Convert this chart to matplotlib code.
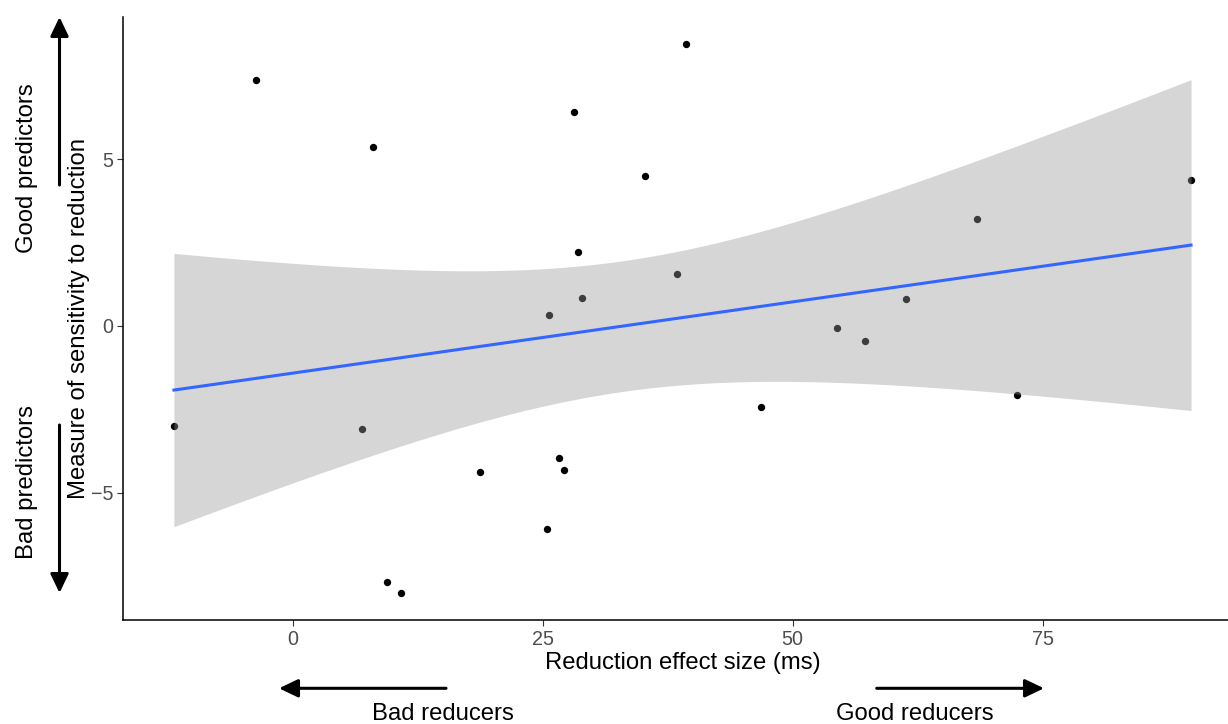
import numpy as np
import matplotlib.pyplot as plt

plt.rcParams['font.family'] = ['Liberation Sans', 'DejaVu Sans']

# data
effect_ms = [-11.87, -3.70, 8.06, 6.90, 9.46, 10.80, 18.76, 25.40, 25.66, 26.60,
             27.16, 28.13, 28.56, 28.93, 35.23, 38.40, 39.36, 46.80, 54.43, 57.26,
             61.33, 68.40, 72.40, 89.83]
sensitivity = [-3.01, 7.39, 5.38, -3.10, -7.69, -8.01, -4.38, -6.08, 0.32, -3.96,
               -4.32, 6.43, 2.23, 0.83, 4.51, 1.55, 8.46, -2.44, -0.06, -0.44,
               0.81, 3.21, -2.08, 4.39]
x_ticks = [0, 25, 50, 75]
y_ticks = [-5, 0, 5]

x = np.array(effect_ms)
y = np.array(sensitivity)

# linear fit with 95% confidence band (like geom_smooth(method="lm"))
n = len(x)
slope, intercept = np.polyfit(x, y, 1)
resid = y - (intercept + slope * x)
s = np.sqrt(np.sum(resid ** 2) / (n - 2))
t_crit = 2.0739  # t(0.975, df=22)
xs = np.linspace(x.min(), x.max(), 200)
fit = intercept + slope * xs
se = s * np.sqrt(1 / n + (xs - x.mean()) ** 2 / np.sum((x - x.mean()) ** 2))
lo, hi = fit - t_crit * se, fit + t_crit * se

W, H = 1228, 724
fig = plt.figure(figsize=(W / 100, H / 100), dpi=100)

# axes box in pixels (the right edge runs a little past the picture, as in the original)
left, right, top, bottom = 123.1, 1241.9, 16.7, 620.3
ax = fig.add_axes([left / W, 1 - bottom / H, (right - left) / W, (bottom - top) / H])

ax.scatter(x, y, s=28, color='black', zorder=1, linewidths=0)
ax.fill_between(xs, lo, hi, color='#999999', alpha=0.4, lw=0, zorder=2)
ax.plot(xs, fit, color='#3366FF', lw=2.2, zorder=3)

xr = x.max() - x.min()
yr = y.max() - y.min()
ax.set_xlim(x.min() - 0.05 * xr, x.max() + 0.05 * xr)
ax.set_ylim(y.min() - 0.05 * yr, y.max() + 0.05 * yr)
ax.set_xticks(x_ticks)
ax.set_yticks(y_ticks)
ax.set_yticklabels(['\u22125', '0', '5'])
ax.tick_params(colors='#333333', labelcolor='#4d4d4d', labelsize=14.2,
               length=4, width=0.8, pad=3)
for side in ['top', 'right']:
    ax.spines[side].set_visible(False)
for side in ['left', 'bottom']:
    ax.spines[side].set_linewidth(1.1)


def fx(px):
    return px / W


def fy(py):
    return 1 - py / H


fs = 17.2
fig.text(fx(682.5), fy(669.3), 'Reduction effect size (ms)', ha='center', va='baseline', fontsize=fs)
fig.text(fx(85), fy(318.5), 'Measure of sensitivity to reduction', rotation=90,
         rotation_mode='anchor', ha='center', va='baseline', fontsize=fs)
fig.text(fx(33), fy(168), 'Good predictors', rotation=90, rotation_mode='anchor',
         ha='center', va='baseline', fontsize=fs)
fig.text(fx(33), fy(482), 'Bad predictors', rotation=90, rotation_mode='anchor',
         ha='center', va='baseline', fontsize=fs)
fig.text(fx(443), fy(720.5), 'Bad reducers', ha='center', va='baseline', fontsize=fs)
fig.text(fx(915.3), fy(720.5), 'Good reducers', ha='center', va='baseline', fontsize=fs)

arrow = dict(arrowstyle='-|>,head_length=1.15,head_width=0.55', color='black',
             lw=2.2, shrinkA=0, shrinkB=0)
for start, end in [((59.5, 185), (59.5, 17)), ((59.5, 425), (59.5, 593)),
                   ((446, 688.3), (279, 688.3)), ((876.7, 688.3), (1044, 688.3))]:
    fig.add_artist(plt.Annotation('', xy=(fx(end[0]), fy(end[1])),
                                  xytext=(fx(start[0]), fy(start[1])),
                                  xycoords='figure fraction', textcoords='figure fraction',
                                  arrowprops=arrow))

fig.savefig('out.png', dpi=100)
